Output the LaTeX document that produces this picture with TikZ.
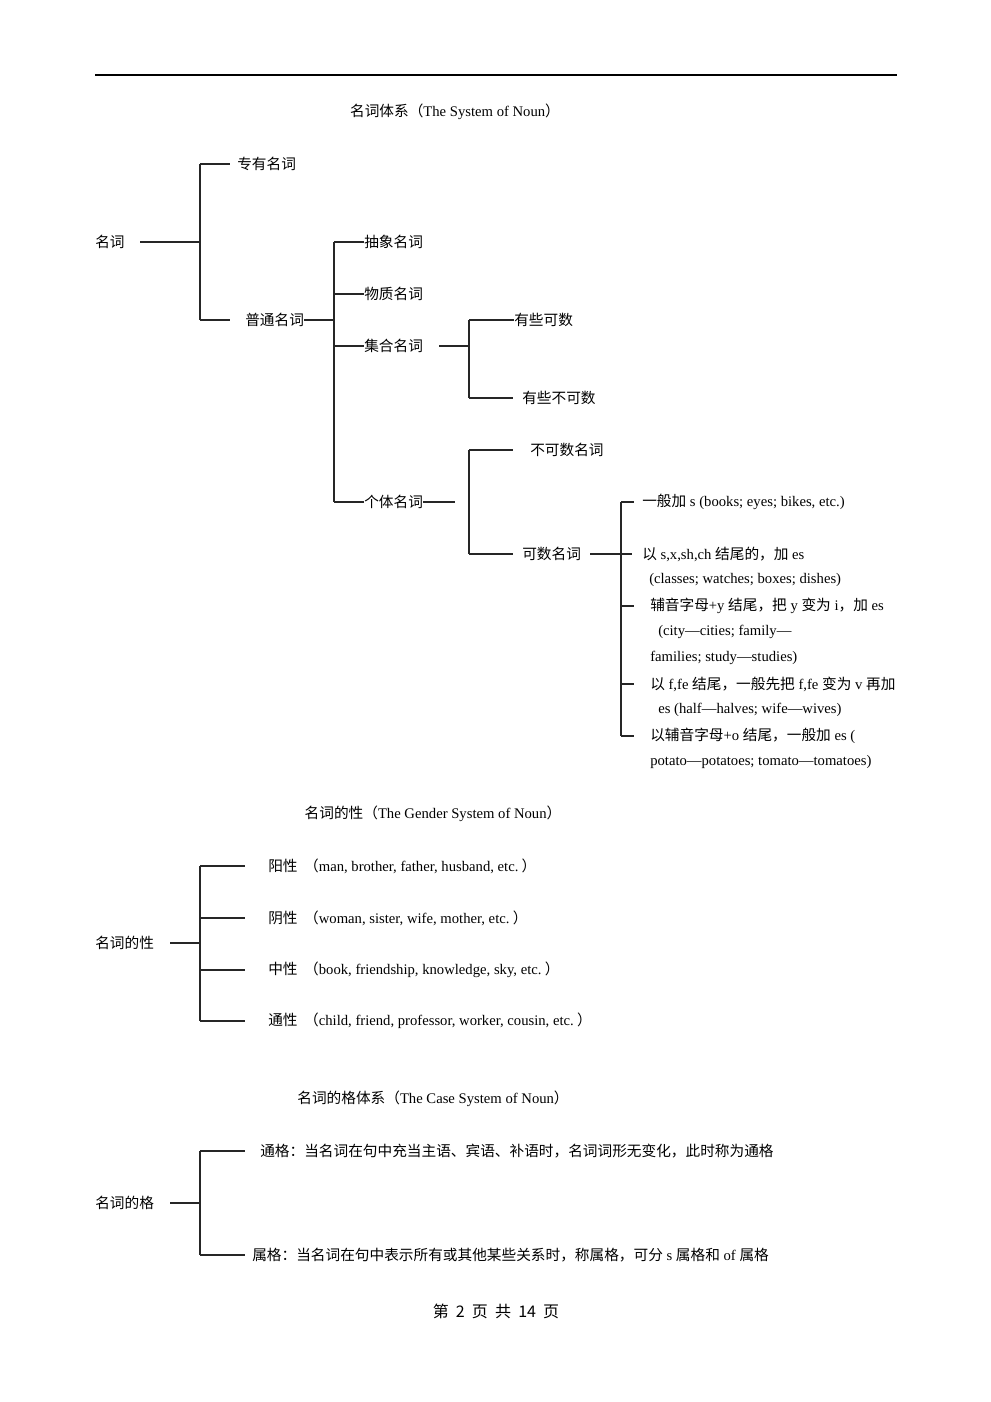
\documentclass[tikz,border=0pt]{standalone}
\usepackage{fontspec}
\setmainfont{Liberation Serif}
\newfontfamily\cjk{Noto Sans CJK SC}
\newcommand\zh[1]{{\cjk #1}}
\begin{document}
\begin{tikzpicture}[x=0.75pt,y=-0.75pt,
  every node/.style={inner sep=0pt,font=\fontsize{11}{12}\selectfont},
  t/.style={anchor=west},
  ln/.style={line width=0.8pt,black!85}]
\useasboundingbox (0,0) rectangle (991,1402);
\draw[line width=0.8pt] (95,75) -- (897,75);
\node (title1) at (455,112) {\zh{名词体系（}The System of Noun\zh{）}};
% tree 1
\node[t] (mc) at (95,242) {\zh{名词}};
\coordinate (a0) at (140,242);
\coordinate (a1) at (200,242);
\node[t] (zy) at (237,164) {\zh{专有名词}};
\node[t] (pt) at (245,320) {\zh{普通名词}};
\draw[ln] (a0) -- (a1) (200,164) -- (200,320) (200,164) -- (230,164) (200,320) -- (230,320);
\node[t] (cx) at (364,242) {\zh{抽象名词}};
\node[t] (wz) at (364,294) {\zh{物质名词}};
\node[t] (jh) at (364,346) {\zh{集合名词}};
\node[t] (gt) at (364,502) {\zh{个体名词}};
\draw[ln] (pt.east) -- (334,320) (334,242) -- (334,502);
\draw[ln] (334,242) -- (cx.west) (334,294) -- (wz.west) (334,346) -- (jh.west) (334,502) -- (gt.west);
\node[t] (ysks) at (514,320) {\zh{有些可数}};
\node[t] (ysbk) at (522,398) {\zh{有些不可数}};
\draw[ln] (439,346) -- (469,346) (469,320) -- (469,398) (469,320) -- (ysks.west) (469,398) -- (513,398);
\node[t] (bks) at (530,450) {\zh{不可数名词}};
\node[t] (ks) at (522,554) {\zh{可数名词}};
\draw[ln] (gt.east) -- (455,502) (469,450) -- (469,554) (469,450) -- (513,450) (469,554) -- (513,554);
\draw[ln] (590,554) -- (632,554) (621,502) -- (621,736);
\foreach \y in {502,606,684,736} \draw[ln] (621,\y) -- (634,\y);
\node[t] at (642,502) {\zh{一般加} s (books; eyes; bikes, etc.)};
\node[t] at (642,554) {\zh{以} s,x,sh,ch \zh{结尾的，加} es};
\node[t] at (649,580) {(classes; watches; boxes; dishes)};
\node[t] at (650,606) {\zh{辅音字母}+y \zh{结尾，把} y \zh{变为} i\zh{，加} es};
\node[t] at (658,632) {(city---cities; family---};
\node[t] at (650,658) {families; study---studies)};
\node[t] at (650,684) {\zh{以} f,fe \zh{结尾，一般先把} f,fe \zh{变为} v \zh{再加}};
\node[t] at (658,710) {es (half---halves; wife---wives)};
\node[t] at (650,736) {\zh{以辅音字母}+o \zh{结尾，一般加} es (};
\node[t] at (650,762) {potato---potatoes; tomato---tomatoes)};
% tree 2
\node (title2) at (433,814) {\zh{名词的性（}The Gender System of Noun\zh{）}};
\node[t] (mx) at (95,943) {\zh{名词的性}};
\draw[ln] (170,943) -- (200,943) (200,866) -- (200,1021);
\foreach \y in {866,918,970,1021} \draw[ln] (200,\y) -- (245,\y);
\node[t] at (268,866) {\zh{阳性\ \ （}man, brother, father, husband, etc.\zh{\ ）}};
\node[t] at (268,918) {\zh{阴性\ \ （}woman, sister, wife, mother, etc.\zh{\ ）}};
\node[t] at (268,970) {\zh{中性\ \ （}book, friendship, knowledge, sky, etc.\zh{\ ）}};
\node[t] at (268,1021) {\zh{通性\ \ （}child, friend, professor, worker, cousin, etc.\zh{\ ）}};
% tree 3
\node (title3) at (433,1099) {\zh{名词的格体系（}The Case System of Noun\zh{）}};
\node[t] (mg) at (95,1203) {\zh{名词的格}};
\draw[ln] (170,1203) -- (200,1203) (200,1151) -- (200,1255) (200,1151) -- (245,1151) (200,1255) -- (245,1255);
\node[t] at (260,1151) {\zh{通格：当名词在句中充当主语、宾语、补语时，名词词形无变化，此时称为通格}};
\node[t] at (252,1255) {\zh{属格：当名词在句中表示所有或其他某些关系时，称属格，可分} s \zh{属格和} of \zh{属格}};
\node[font=\cjk\fontsize{12}{14}\selectfont] (foot) at (496,1311) {第\ \ 2\ \ 页\ \ 共\ \ 14\ \ 页};
\end{tikzpicture}
\end{document}
